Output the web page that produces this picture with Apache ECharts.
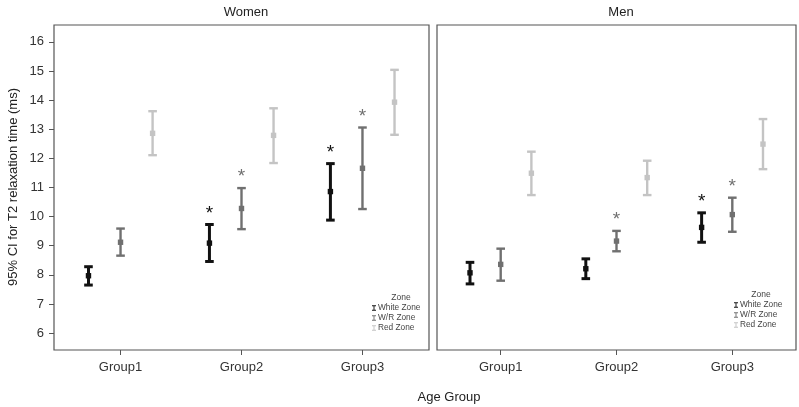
<!DOCTYPE html>
<html><head><meta charset="utf-8">
<script src="https://cdn.jsdelivr.net/npm/echarts@6/dist/echarts.min.js"></script>
<style>html,body{margin:0;padding:0;background:#fff}#c{width:799px;height:407px}</style>
</head><body><div id="c"></div>
<script>
// ---- data ----
const groups = ['Group1', 'Group2', 'Group3'];
const zones = ['White Zone', 'W/R Zone', 'Red Zone'];
const yTicks = [6, 7, 8, 9, 10, 11, 12, 13, 14, 15, 16];

const womenWhiteMean = [7.97, 9.09, 10.86];
const womenWhiteLow  = [7.65, 8.46, 9.88];
const womenWhiteHigh = [8.28, 9.73, 11.82];
const womenWhiteSig  = [0, 1, 1];

const womenWRMean = [9.12, 10.28, 11.66];
const womenWRLow  = [8.66, 9.57, 10.26];
const womenWRHigh = [9.59, 10.98, 13.06];
const womenWRSig  = [0, 1, 1];

const womenRedMean = [12.86, 12.79, 13.93];
const womenRedLow  = [12.11, 11.84, 12.81];
const womenRedHigh = [13.62, 13.72, 15.04];
const womenRedSig  = [0, 0, 0];

const menWhiteMean = [8.07, 8.21, 9.63];
const menWhiteLow  = [7.69, 7.87, 9.12];
const menWhiteHigh = [8.43, 8.55, 10.13];
const menWhiteSig  = [0, 0, 1];

const menWRMean = [8.36, 9.16, 10.07];
const menWRLow  = [7.80, 8.81, 9.48];
const menWRHigh = [8.90, 9.51, 10.65];
const menWRSig  = [0, 1, 1];

const menRedMean = [11.49, 11.34, 12.49];
const menRedLow  = [10.74, 10.74, 11.63];
const menRedHigh = [12.23, 11.92, 13.35];
const menRedSig  = [0, 0, 0];

// ---- styling / layout ----
const zoneColors = ['#111111', '#707070', '#c4c4c4'];
const zoneWidths = [3, 2.4, 2.4];
const dodge = [-0.265, 0, 0.265];
const FONT = '"Liberation Sans", Arial, sans-serif';

function build(mean, low, high, sig, z) {
  return groups.map((g, i) => [i + 1 + dodge[z], low[i], high[i], mean[i], sig[i]]);
}

function renderer(z) {
  const color = zoneColors[z], lw = zoneWidths[z];
  return function (params, api) {
    const x = api.value(0), lo = api.value(1), hi = api.value(2), m = api.value(3), s = api.value(4);
    const pLo = api.coord([x, lo]), pHi = api.coord([x, hi]), pM = api.coord([x, m]);
    const cw = 4.3;
    const st = { stroke: color, lineWidth: lw };
    const ch = [
      { type: 'line', shape: { x1: pLo[0], y1: pLo[1], x2: pHi[0], y2: pHi[1] }, style: st },
      { type: 'line', shape: { x1: pLo[0] - cw, y1: pLo[1], x2: pLo[0] + cw, y2: pLo[1] }, style: st },
      { type: 'line', shape: { x1: pHi[0] - cw, y1: pHi[1], x2: pHi[0] + cw, y2: pHi[1] }, style: st },
      { type: 'rect', shape: { x: pM[0] - 2.7, y: pM[1] - 2.7, width: 5.4, height: 5.4 }, style: { fill: color } }
    ];
    if (s) ch.push({ type: 'text', style: { text: '*', x: pHi[0], y: pHi[1] - 11, fill: color, font: '19px ' + FONT, align: 'center', verticalAlign: 'middle' } });
    return { type: 'group', children: ch };
  };
}

const panels = [
  { sets: [[womenWhiteMean, womenWhiteLow, womenWhiteHigh, womenWhiteSig], [womenWRMean, womenWRLow, womenWRHigh, womenWRSig], [womenRedMean, womenRedLow, womenRedHigh, womenRedSig]] },
  { sets: [[menWhiteMean, menWhiteLow, menWhiteHigh, menWhiteSig], [menWRMean, menWRLow, menWRHigh, menWRSig], [menRedMean, menRedLow, menRedHigh, menRedSig]] }
];

const series = [];
panels.forEach((p, pi) => {
  p.sets.forEach((s, z) => {
    series.push({
      type: 'custom', name: zones[z], xAxisIndex: pi, yAxisIndex: pi,
      itemStyle: { color: zoneColors[z] },
      renderItem: renderer(z),
      encode: { x: 0, y: [1, 2, 3] },
      data: build(s[0], s[1], s[2], s[3], z),
      silent: true, animation: false
    });
  });
});

const gridBase = { top: 25, height: 325, show: true, borderColor: '#555', borderWidth: 1.2, backgroundColor: '#fff' };
const xAxisBase = {
  type: 'value', min: 0.45, max: 3.55, splitLine: { show: false },
  axisLine: { show: false },
  axisTick: { show: true, customValues: [1, 2, 3], length: 5, lineStyle: { color: '#555' } },
  axisLabel: { customValues: [1, 2, 3], formatter: v => groups[Math.round(v) - 1], color: '#333', fontSize: 13, fontFamily: FONT, margin: 11 }
};
const yAxisBase = {
  type: 'value', min: 5.42, max: 16.58, splitLine: { show: false }, axisLine: { show: false }
};

const legendIcon = 'path://M0,0H6V1.2H3.7V6.8H6V8H0V6.8H2.3V1.2H0Z';
function legend(left, top) {
  return {
    orient: 'vertical', left: left, top: top, data: zones, icon: legendIcon,
    itemWidth: 4, itemHeight: 8, itemGap: 2, padding: 0, selectedMode: false,
    textStyle: { fontSize: 8.3, color: '#444', fontFamily: FONT, padding: [0, 0, 0, -3] }
  };
}

const option = {
  animation: false,
  backgroundColor: '#fff',
  title: [
    { text: 'Women', left: 241, top: 1, textAlign: 'center', textStyle: { fontSize: 13, fontWeight: 'normal', color: '#222', fontFamily: FONT } },
    { text: 'Men', left: 616, top: 1, textAlign: 'center', textStyle: { fontSize: 13, fontWeight: 'normal', color: '#222', fontFamily: FONT } },
    { text: 'Zone', left: 396, top: 288, textAlign: 'center', textStyle: { fontSize: 8.5, fontWeight: 'normal', color: '#444', fontFamily: FONT } },
    { text: 'Zone', left: 756, top: 285, textAlign: 'center', textStyle: { fontSize: 8.5, fontWeight: 'normal', color: '#444', fontFamily: FONT } }
  ],
  legend: [legend(372, 304), legend(734, 301)],
  grid: [
    Object.assign({ left: 54, width: 375 }, gridBase),
    Object.assign({ left: 437, width: 359 }, gridBase)
  ],
  xAxis: [Object.assign({ gridIndex: 0 }, xAxisBase), Object.assign({ gridIndex: 1 }, xAxisBase)],
  yAxis: [
    Object.assign({ gridIndex: 0,
      axisTick: { show: true, customValues: yTicks, length: 5, lineStyle: { color: '#555' } },
      axisLabel: { customValues: yTicks, color: '#333', fontSize: 13, fontFamily: FONT, margin: 10 } }, yAxisBase),
    Object.assign({ gridIndex: 1, axisTick: { show: false }, axisLabel: { show: false } }, yAxisBase)
  ],
  graphic: [
    { type: 'text', x: 13, y: 187, rotation: Math.PI / 2, style: { text: '95% CI for T2 relaxation time (ms)', font: '13px ' + FONT, fill: '#222', align: 'center', verticalAlign: 'middle' } },
    { type: 'text', x: 449, y: 397, style: { text: 'Age Group', font: '13px ' + FONT, fill: '#222', align: 'center', verticalAlign: 'middle' } }
  ],
  series: series
};

const chart = echarts.init(document.getElementById('c'), null, { renderer: 'canvas' });
chart.setOption(option);
</script>
</body></html>
